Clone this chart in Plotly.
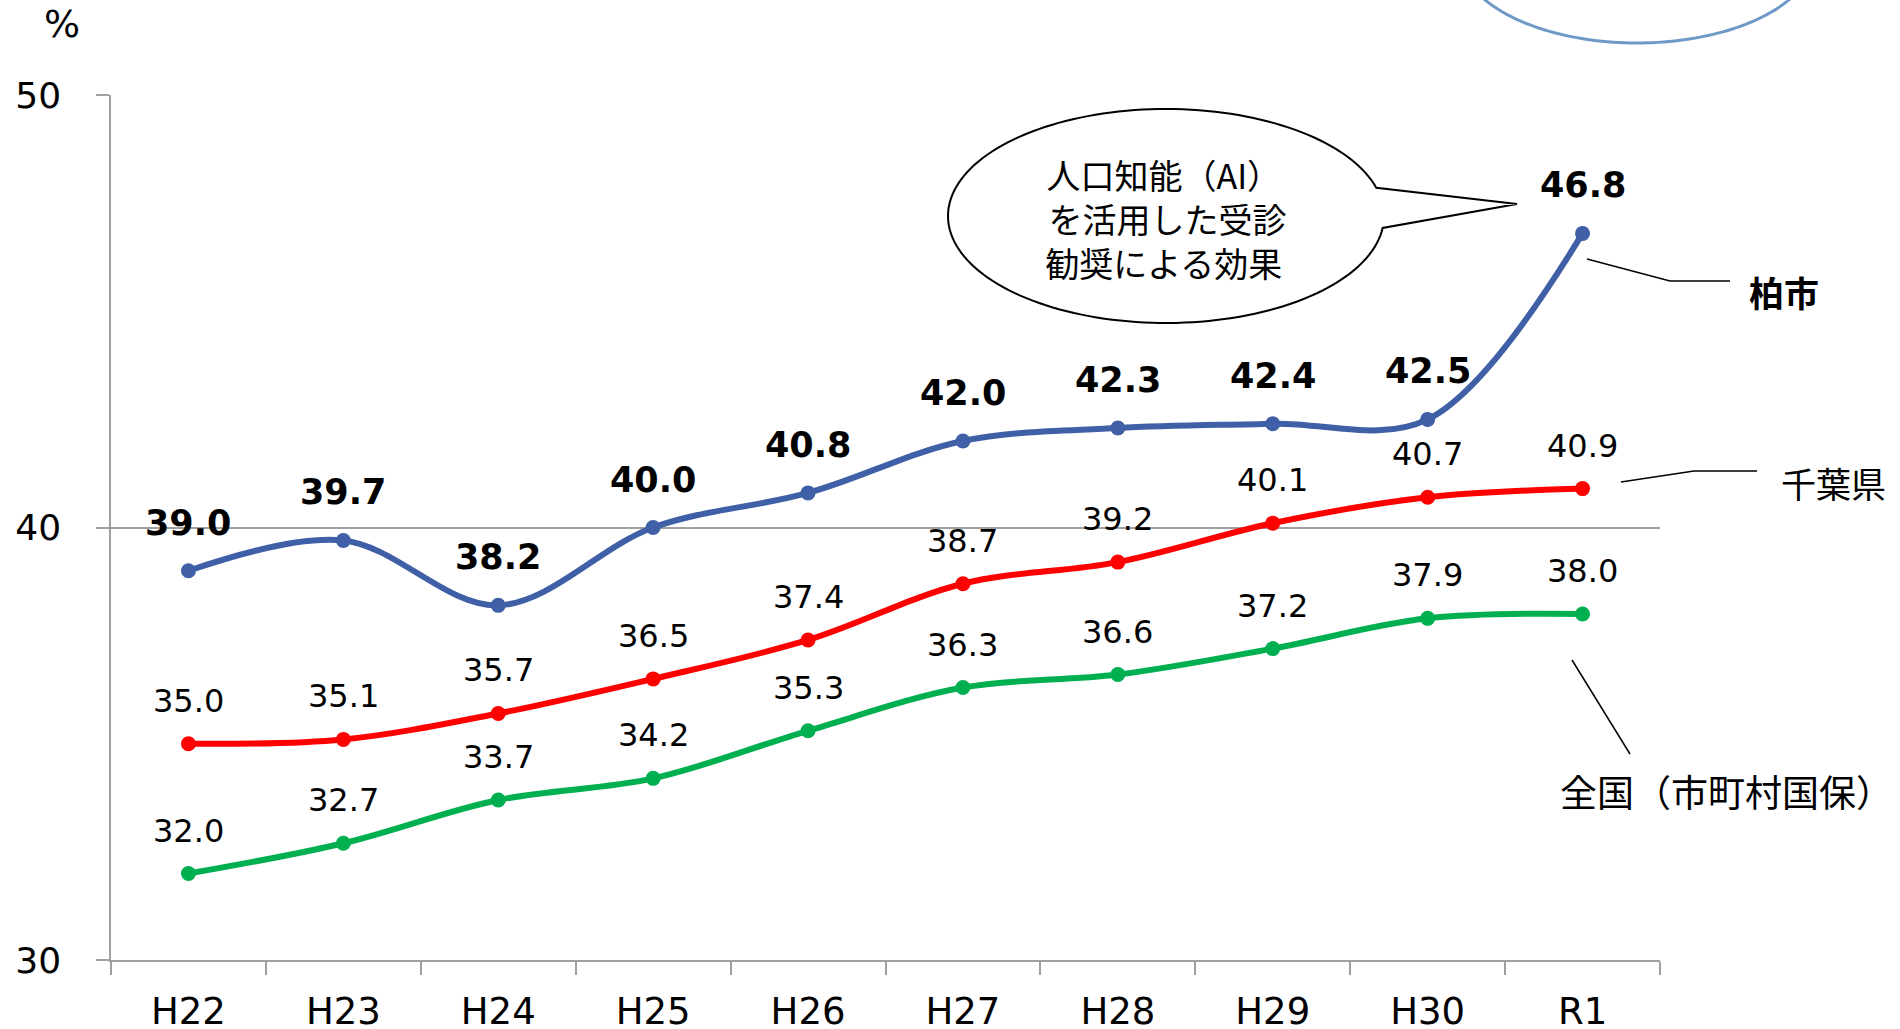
import numpy as np
import plotly.graph_objects as go

categories = ["H22", "H23", "H24", "H25", "H26", "H27", "H28", "H29", "H30", "R1"]
kashiwa = [39.0, 39.7, 38.2, 40.0, 40.8, 42.0, 42.3, 42.4, 42.5, 46.8]
chiba = [35.0, 35.1, 35.7, 36.5, 37.4, 38.7, 39.2, 40.1, 40.7, 40.9]
zenkoku = [32.0, 32.7, 33.7, 34.2, 35.3, 36.3, 36.6, 37.2, 37.9, 38.0]
y_ticks = [30, 40, 50]

series_names = ["柏市", "千葉県", "全国（市町村国保）"]
colors = ["#3F5FA6", "#FF0000", "#00B050"]

W, H = 1900, 1029
L, R, T, B = 111, 240, 95, 69
PW, PH = W - L - R, H - T - B

def px(X):
    return (X - L) / PW

def py(Y):
    return (H - B - Y) / PH

LAT = "DejaVu Sans"
CJK = "Noto Sans CJK JP"

fig = go.Figure()
for vals, col, name in zip([kashiwa, chiba, zenkoku], colors, series_names):
    fig.add_trace(go.Scatter(
        x=categories, y=vals, mode="lines+markers", name=name,
        line=dict(color=col, width=6, shape="spline", smoothing=1.0),
        marker=dict(color=col, size=15),
        showlegend=False, cliponaxis=False,
    ))

annotations = []
for vals, bold in [(kashiwa, True), (chiba, False), (zenkoku, False)]:
    for c, v in zip(categories, vals):
        annotations.append(dict(
            x=c, y=v, xref="x", yref="y", showarrow=False,
            text=(f"<b>{v:.1f}</b>" if bold else f"{v:.1f}"),
            yanchor="middle", xanchor="center",
            yshift=(48 if bold else 43),
            font=dict(family=LAT, size=(35 if bold else 32), color="black"),
        ))

# series labels
annotations.append(dict(x=px(1784), y=py(291), xref="paper", yref="paper", showarrow=False,
                        text="<b>柏市</b>", font=dict(family=CJK, size=35, color="black"),
                        xanchor="center", yanchor="middle"))
annotations.append(dict(x=px(1833), y=py(482), xref="paper", yref="paper", showarrow=False,
                        text="千葉県", font=dict(family=CJK, size=35, color="black"),
                        xanchor="center", yanchor="middle"))
annotations.append(dict(x=px(1726), y=py(791), xref="paper", yref="paper", showarrow=False,
                        text="全国（市町村国保）", font=dict(family=CJK, size=37, color="black"),
                        xanchor="center", yanchor="middle"))
# callout text
annotations.append(dict(x=px(1164), y=py(218), xref="paper", yref="paper", showarrow=False,
                        text="人口知能（AI）<br> を活用した受診<br>勧奨による効果",
                        font=dict(family=CJK, size=34, color="black"),
                        xanchor="center", yanchor="middle", align="center"))
# percent unit
annotations.append(dict(x=px(62), y=py(24), xref="paper", yref="paper", showarrow=False,
                        text="%", font=dict(family=LAT, size=38, color="black"),
                        xanchor="center", yanchor="middle"))

shapes = []

def path_from(points, close=False):
    s = "M " + " L ".join(f"{px(X):.5f},{py(Y):.5f}" for X, Y in points)
    return s + (" Z" if close else "")

# callout ellipse with tail
cx, cy, rx, ry = 1166, 216, 218, 107
a1 = np.arctan2(12 / ry, 218 / rx)
a2 = 2 * np.pi + np.arctan2(-28 / ry, 209 / rx)
ang = np.linspace(a1, a2, 160)
pts = [(cx + rx * np.cos(a), cy + ry * np.sin(a)) for a in ang]
pts.append((1517, 204))
shapes.append(dict(type="path", xref="paper", yref="paper", path=path_from(pts, close=True),
                   line=dict(color="black", width=2), fillcolor="white", layer="above"))

# top-right ellipse (partially visible)
ang2 = np.linspace(0, 2 * np.pi, 200)
pts2 = [(1637 + 178 * np.cos(a), -47 + 90 * np.sin(a)) for a in ang2]
shapes.append(dict(type="path", xref="paper", yref="paper", path=path_from(pts2, close=True),
                   line=dict(color="#6F9AC8", width=3), fillcolor="rgba(0,0,0,0)"))

# leader lines
for seg in [
    [(1587, 259), (1670, 281), (1730, 281)],
    [(1621, 482), (1694, 471), (1757, 471)],
    [(1572, 660), (1630, 754)],
]:
    shapes.append(dict(type="path", xref="paper", yref="paper", path=path_from(seg),
                       line=dict(color="black", width=1.5)))

fig.update_layout(
    width=W, height=H,
    margin=dict(l=L, r=R, t=T, b=B, pad=0, autoexpand=False),
    paper_bgcolor="white", plot_bgcolor="white",
    annotations=annotations, shapes=shapes,
    xaxis=dict(
        type="category", range=[-0.5, 9.5], tickson="boundaries", automargin=False,
        ticks="outside", ticklen=13, tickcolor="#A0A0A0", tickwidth=1.5,
        showline=True, linecolor="#A0A0A0", linewidth=1.5, showgrid=False,
        tickfont=dict(family=LAT, size=37, color="black"), ticklabelstandoff=18,
    ),
    yaxis=dict(
        range=[30, 50], tickvals=y_ticks, ticktext=[str(v) for v in y_ticks], automargin=False,
        ticks="outside", ticklen=13, tickcolor="#A0A0A0", tickwidth=1.5,
        showline=True, linecolor="#A0A0A0", linewidth=1.5,
        showgrid=True, gridcolor="#A0A0A0", gridwidth=1.5, zeroline=False,
        tickfont=dict(family=LAT, size=36, color="black"), ticklabelstandoff=28,
    ),
)

fig.write_html("out.html")
